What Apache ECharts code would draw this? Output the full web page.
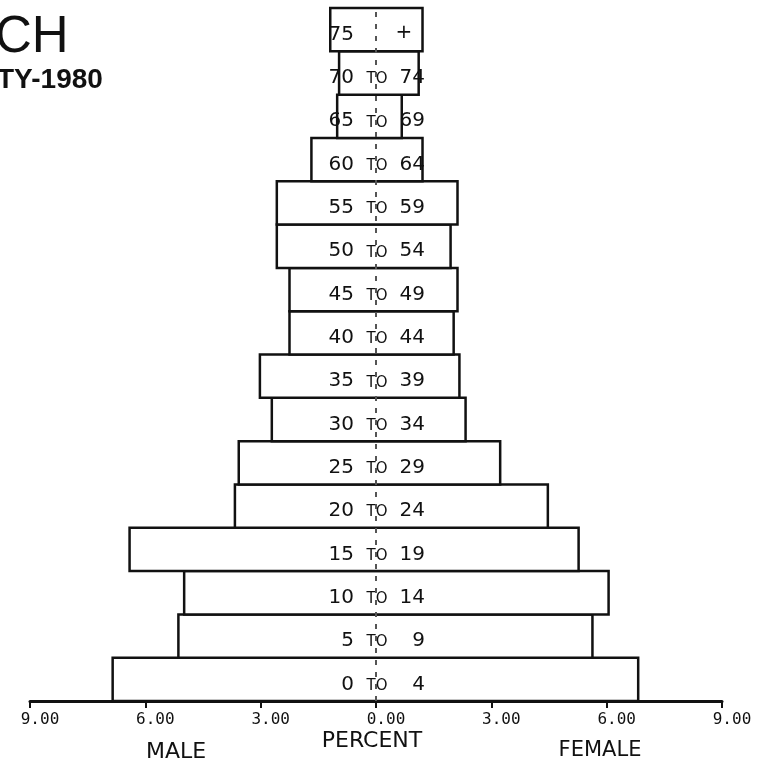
<!DOCTYPE html>
<html>
<head>
<meta charset="utf-8">
<script src="https://cdn.jsdelivr.net/npm/echarts@6.0.0/dist/echarts.min.js"></script>
<style>
  html, body { margin: 0; padding: 0; background: #fff; }
  #chart { width: 765px; height: 769px; }
</style>
</head>
<body>
<div id="chart"></div>
<script>
// age groups, bottom to top
const ageFrom = ['0', '5', '10', '15', '20', '25', '30', '35', '40', '45', '50', '55', '60', '65', '70', '75'];
const ageTo = ['4', '9', '14', '19', '24', '29', '34', '39', '44', '49', '54', '59', '64', '69', '74', '+'];
// percent of population
const male = [6.85, 5.14, 4.99, 6.41, 3.67, 3.57, 2.71, 3.02, 2.25, 2.25, 2.58, 2.58, 1.68, 1.01, 0.96, 1.19];
const female = [6.82, 5.63, 6.05, 5.27, 4.47, 3.23, 2.33, 2.17, 2.02, 2.12, 1.94, 2.12, 1.21, 0.67, 1.11, 1.21];

const plotFont = "'DejaVu Sans', sans-serif";
const monoFont = "'DejaVu Sans Mono', monospace";

const chart = echarts.init(document.getElementById('chart'));

const rows = ageFrom.map((a, i) => [a, -male[i], female[i]]);

function renderBox(params, api) {
    const idx = params.dataIndex;
    const cat = api.value(0);
    const left = api.coord([api.value(1), cat]);
    const right = api.coord([api.value(2), cat]);
    const h = api.size([0, 1])[1];
    const mid = api.coord([0, cat]);
    const ty = mid[1] + 5;
    const numStyle = { fontSize: 20, fontFamily: plotFont, fill: '#111', verticalAlign: 'middle' };
    const children = [
        {
            type: 'rect',
            shape: { x: left[0], y: left[1] - h / 2, width: right[0] - left[0], height: h },
            style: { fill: '#fff', stroke: '#111', lineWidth: 2.5 }
        },
        {
            type: 'text', x: mid[0] - 22, y: ty, z2: 10,
            style: Object.assign({ text: ageFrom[idx], align: 'right' }, numStyle)
        }
    ];
    if (ageTo[idx] === '+') {
        children.push({
            type: 'text', x: mid[0] + 28, y: ty - 2, z2: 10,
            style: Object.assign({ text: '+', align: 'center' }, numStyle)
        });
    } else {
        children.push({
            type: 'text', x: mid[0] + 1, y: ty + 1.5, z2: 10,
            style: { text: 'TO', align: 'center', verticalAlign: 'middle', fontSize: 15, fontFamily: plotFont, fill: '#111' }
        });
        children.push({
            type: 'text', x: mid[0] + 49, y: ty, z2: 10,
            style: Object.assign({ text: ageTo[idx], align: 'right' }, numStyle)
        });
    }
    return { type: 'group', children: children };
}

const option = {
    backgroundColor: '#fff',
    animation: false,
    grid: { left: 30, right: 43, top: 8, bottom: 68 },
    xAxis: {
        type: 'value',
        min: -9,
        max: 9,
        interval: 3,
        axisLine: { show: true, lineStyle: { color: '#111', width: 3 } },
        axisTick: { show: true, length: 7, lineStyle: { color: '#111', width: 2 } },
        splitLine: { show: false },
        axisLabel: {
            formatter: v => Math.abs(v).toFixed(2),
            color: '#111',
            fontSize: 16,
            fontFamily: monoFont,
            margin: 11,
            padding: [0, 0, 0, 20],
            showMinLabel: true,
            showMaxLabel: true
        }
    },
    yAxis: {
        type: 'category',
        data: ageFrom,
        show: false
    },
    graphic: [
        { type: 'text', left: -5, top: 12, style: { text: 'CH', font: '51px "Liberation Sans", Arial, sans-serif', fill: '#111' } },
        { type: 'text', left: -3, top: 66, style: { text: 'TY-1980', font: 'bold 28px "Liberation Sans", Arial, sans-serif', fill: '#111' } },
        { type: 'text', x: 372, y: 741, style: { text: 'PERCENT', font: '22px ' + plotFont, fill: '#111', align: 'center', verticalAlign: 'middle' } },
        { type: 'text', x: 176, y: 752, style: { text: 'MALE', font: '22px ' + plotFont, fill: '#111', align: 'center', verticalAlign: 'middle' } },
        { type: 'text', x: 600, y: 751, style: { text: 'FEMALE', font: '21px ' + plotFont, fill: '#111', align: 'center', verticalAlign: 'middle' } }
    ],
    series: [
        {
            type: 'custom',
            renderItem: renderBox,
            data: rows,
            encode: { y: 0, x: [1, 2] },
            markLine: {
                silent: true,
                symbol: 'none',
                z: 10,
                label: { show: false },
                lineStyle: { color: '#555', width: 2, type: [5, 7] },
                data: [{ xAxis: 0 }]
            }
        }
    ]
};

chart.setOption(option);
</script>
</body>
</html>
